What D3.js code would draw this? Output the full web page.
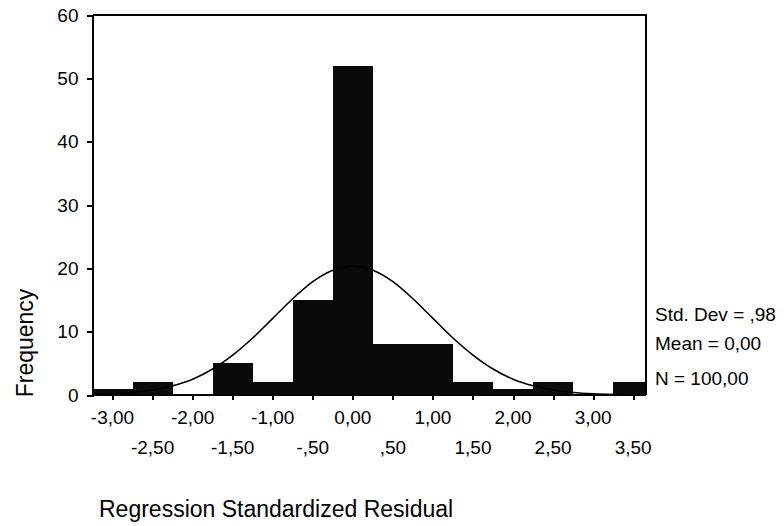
<html>
  <head>
    <script src="https://cdn.jsdelivr.net/npm/d3@7"></script>
    <style>
      body { margin: 0; background: #fff; }
      text { font-family: "Liberation Sans", Arial, sans-serif; fill: #000; }
      .axis path, .axis line { stroke: #000; stroke-width: 2px; fill: none; shape-rendering: crispEdges; }
      .curve { fill: none; stroke: #000; stroke-width: 1.6px; }
    </style>
  </head>
  <body>
    <script>
      // histogram bins (centre of each 0.5 wide bin) and counts
      var binCenters = [-3, -2.5, -2, -1.5, -1, -0.5, 0, 0.5, 1, 1.5, 2, 2.5, 3, 3.5];
      var counts = [1, 2, 0, 5, 2, 15, 52, 8, 8, 2, 1, 2, 0, 2];
      var binWidth = 0.5;

      // normal curve
      var curveX = [-3.75, -3.5, -3.25, -3, -2.75, -2.5, -2.25, -2, -1.75, -1.5, -1.25, -1, -0.75, -0.5, -0.25, 0,
                    0.25, 0.5, 0.75, 1, 1.25, 1.5, 1.75, 2, 2.25, 2.5, 2.75, 3, 3.25, 3.5, 3.75];
      var curveY = [0.01, 0.03, 0.08, 0.19, 0.4, 0.79, 1.46, 2.5, 4.1, 6.3, 9.0, 12.1, 15.2, 17.9, 19.7, 20.35,
                    19.7, 17.9, 15.2, 12.1, 9.0, 6.3, 4.1, 2.5, 1.46, 0.79, 0.4, 0.19, 0.08, 0.03, 0.01];

      var yTicks = [0, 10, 20, 30, 40, 50, 60];
      var xTicksTop = [-3, -2, -1, 0, 1, 2, 3];
      var xLabelsTop = ["-3,00", "-2,00", "-1,00", "0,00", "1,00", "2,00", "3,00"];
      var xTicksLow = [-2.5, -1.5, -0.5, 0.5, 1.5, 2.5, 3.5];
      var xLabelsLow = ["-2,50", "-1,50", "-,50", ",50", "1,50", "2,50", "3,50"];
      var stats = ["Std. Dev = ,98", "Mean = 0,00", "N = 100,00"];

      var w = 784, h = 526;
      var pLeft = 92.5, pRight = 646, pTop = 15, pBottom = 395;

      var svg = d3.select("body").append("svg")
          .attr("width", w)
          .attr("height", h);

      var x = d3.scaleLinear().domain([-3.25, 3.66]).range([pLeft, pRight]);
      var y = d3.scaleLinear().domain([0, 60]).range([pBottom, pTop]);

      svg.append("clipPath").attr("id", "plot")
        .append("rect")
          .attr("x", pLeft).attr("y", pTop)
          .attr("width", pRight - pLeft).attr("height", pBottom - pTop);

      var g = svg.append("g").attr("clip-path", "url(#plot)");

      g.selectAll("rect.bar")
          .data(counts)
          .enter().append("rect")
          .attr("class", "bar")
          .attr("x", function(d, i) { return x(binCenters[i] - binWidth / 2); })
          .attr("width", function(d, i) { return x(binCenters[i] + binWidth / 2) - x(binCenters[i] - binWidth / 2); })
          .attr("y", function(d) { return y(d); })
          .attr("height", function(d) { return y(0) - y(d); })
          .style("fill", "#0a0a0a")
          .style("shape-rendering", "crispEdges");

      var line = d3.line()
          .x(function(d, i) { return x(curveX[i]); })
          .y(function(d) { return y(d); })
          .curve(d3.curveMonotoneX);

      g.append("path")
          .datum(curveY)
          .attr("class", "curve")
          .attr("d", line);

      // y axis
      var yAxis = svg.append("g")
          .attr("class", "axis")
          .attr("transform", "translate(" + pLeft + ",0)")
          .call(d3.axisLeft(y).tickValues(yTicks).tickSize(6).tickPadding(8).tickFormat(d3.format("d")));
      yAxis.selectAll("text").style("font-size", "19px");

      // x axis: ticks every 0.5, labels in two rows
      var xAxis = svg.append("g")
          .attr("class", "axis")
          .attr("transform", "translate(0," + pBottom + ")")
          .call(d3.axisBottom(x).tickValues(xTicksTop.concat(xTicksLow)).tickSize(5).tickFormat(""));
      xAxis.select(".domain").attr("d", "M" + pLeft + ",0H" + pRight);

      svg.selectAll("text.xtop")
          .data(xTicksTop)
          .enter().append("text")
          .attr("class", "xtop")
          .attr("x", function(d) { return x(d); })
          .attr("y", 424)
          .attr("text-anchor", "middle")
          .style("font-size", "19px")
          .text(function(d, i) { return xLabelsTop[i]; });

      svg.selectAll("text.xlow")
          .data(xTicksLow)
          .enter().append("text")
          .attr("class", "xlow")
          .attr("x", function(d) { return x(d); })
          .attr("y", 454)
          .attr("text-anchor", "middle")
          .style("font-size", "19px")
          .text(function(d, i) { return xLabelsLow[i]; });

      // frame top and right
      svg.append("path")
          .attr("d", "M" + pLeft + "," + pTop + "H" + pRight + "V" + pBottom)
          .style("fill", "none").style("stroke", "#000").style("stroke-width", 2)
          .style("shape-rendering", "crispEdges");

      // stats
      var statY = [321, 350, 385];
      svg.selectAll("text.stat")
          .data(stats)
          .enter().append("text")
          .attr("class", "stat")
          .attr("x", 655)
          .attr("y", function(d, i) { return statY[i]; })
          .style("font-size", "19px")
          .text(function(d) { return d; });

      svg.append("text")
          .attr("x", 99)
          .attr("y", 517)
          .style("font-size", "23px")
          .text("Regression Standardized Residual");

      svg.append("text")
          .attr("transform", "translate(33,343) rotate(-90)")
          .attr("text-anchor", "middle")
          .style("font-size", "23px")
          .text("Frequency");
    </script>
  </body>
</html>
